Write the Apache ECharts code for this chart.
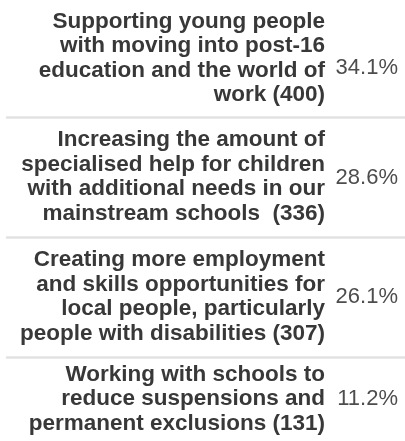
<!DOCTYPE html>
<html>
<head>
<meta charset="utf-8">
<script src="https://cdn.jsdelivr.net/npm/echarts@6/dist/echarts.min.js"></script>
<style>
html, body { margin: 0; padding: 0; background: #fff; }
#chart { width: 405px; height: 441px; }
</style>
</head>
<body>
<div id="chart"></div>
<script>
// categories as printed (line breaks as in the source table)
const categories = [
  'Supporting young people\nwith moving into post-16\neducation and the world of\nwork (400)',
  'Increasing the amount of\nspecialised help for children\nwith additional needs in our\nmainstream schools  (336)',
  'Creating more employment\nand skills opportunities for\nlocal people, particularly\npeople with disabilities (307)',
  'Working with schools to\nreduce suspensions and\npermanent exclusions (131)'
]
const percentages = [34.1, 28.6, 26.1, 11.2]

// row layout of the table (px)
const rowTops = [0, 117, 237, 357]
const rowHeights = [117, 120, 120, 92]
const labelShift = [9, 1, 0, 0]

const font = '"Liberation Sans", Arial, sans-serif'
const grid = []
const xAxis = []
const yAxis = []
const series = []

categories.forEach((cat, i) => {
  grid.push({ left: 7, right: 0, top: rowTops[i], height: rowHeights[i] })
  xAxis.push({
    gridIndex: i,
    type: 'value',
    min: 0,
    max: 100,
    inverse: true,
    axisLine: { show: i < 3, lineStyle: { color: '#e2e2e2', width: 2.5 } },
    axisTick: { show: false },
    axisLabel: { show: false },
    splitLine: { show: false }
  })
  yAxis.push({
    gridIndex: i,
    type: 'category',
    position: 'right',
    data: [cat],
    axisLine: { show: false },
    axisTick: { show: false },
    axisLabel: {
      inside: true,
      margin: 80,
      align: 'right',
      fontFamily: font,
      fontSize: 22.5,
      fontWeight: 'bold',
      lineHeight: 24.5,
      color: '#383838'
    }
  })
  series.push({
    type: 'bar',
    xAxisIndex: i,
    yAxisIndex: i,
    data: [percentages[i]],
    barWidth: '50%',
    itemStyle: { color: 'rgba(0,0,0,0)' },
    label: {
      show: true,
      position: 'insideRight',
      distance: 7,
      offset: [0, labelShift[i]],
      formatter: p => p.value.toFixed(1) + '%',
      fontFamily: font,
      fontSize: 22,
      color: '#4d4d4d'
    }
  })
})

let myChart = echarts.init(document.getElementById('chart'))
myChart.setOption({
  animation: false,
  grid: grid,
  xAxis: xAxis,
  yAxis: yAxis,
  series: series
})
</script>
</body>
</html>
